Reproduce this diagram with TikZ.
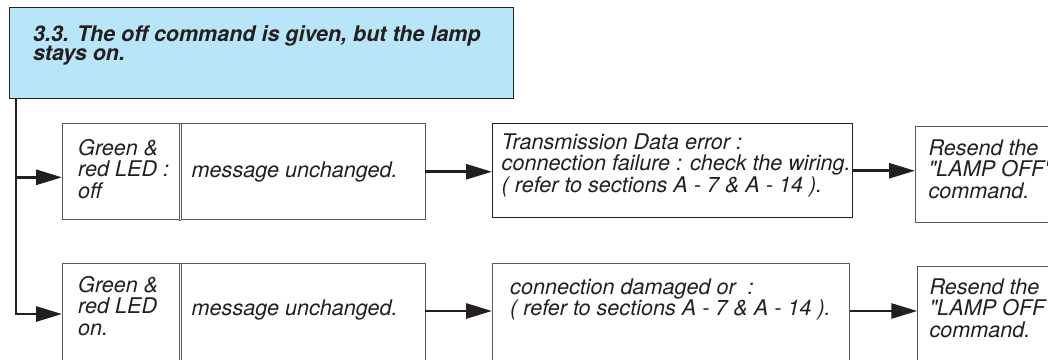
\documentclass[tikz,border=0pt]{standalone}
\usepackage{fontspec}
\newfontfamily\hvfont{TeX Gyre Heros}
\usetikzlibrary{arrows.meta,calc}
\definecolor{ink}{HTML}{231F20}
\definecolor{hdrfill}{HTML}{B9E5F9}
\definecolor{boxline}{HTML}{58595B}
\newcommand\mytopstrut{\rule{0pt}{20pt}}
\begin{document}
\begin{tikzpicture}[x=1pt,y=-1pt,
  boxn/.style={draw=boxline, line width=0.9pt, inner sep=0pt, anchor=north west},
  txt/.style={anchor=north west, inner sep=0pt, align=left, text=ink,
    font=\hvfont\fontsize{21.6}{21.5}\selectfont\itshape},
  conn/.style={draw=ink, line width=2.8pt},
  arr/.style={conn, -{Triangle[length=26pt,width=15pt]}}]
\useasboundingbox (0,0) rectangle (1048,359);
\clip (0,0) rectangle (1048,359);

% header
\node[draw=ink, line width=1.4pt, fill=hdrfill, inner sep=0pt, anchor=north west,
  minimum width=504pt, minimum height=91pt] (hdr) at (9,7) {};
\node[txt, font=\hvfont\fontsize{21.5}{19.3}\selectfont\bfseries\itshape] (thdr) at (33,21)
  {\mytopstrut 3.3. The off command is given, but the lamp\\stays on.};

% row 1 boxes
\node[boxn, minimum width=116.5pt, minimum height=96pt] (A1) at (62,123.3) {};
\node[boxn, minimum width=244pt, minimum height=96pt] (B1) at (180.5,123.3) {};
\draw[boxline, line width=0.9pt] (A1.north east) -- (B1.north west) (A1.south east) -- (B1.south west);
\node[boxn, draw=ink, minimum width=360pt, minimum height=94pt] (C1) at (492,123.3) {};
\node[boxn, minimum width=200pt, minimum height=96.3pt] (D1) at (915,126) {};

% row 2 boxes
\node[boxn, minimum width=116.5pt, minimum height=120pt] (A2) at (62,263) {};
\node[boxn, minimum width=244pt, minimum height=120pt] (B2) at (180.5,263) {};
\draw[boxline, line width=0.9pt] (A2.north east) -- (B2.north west);
\node[boxn, minimum width=357pt, minimum height=120pt] (C2) at (492,263.3) {};
\node[boxn, minimum width=200pt, minimum height=120pt] (D2) at (917.3,265.7) {};

% texts
\node[txt] (tA1) at (78,135) {\mytopstrut Green \&\\red LED :\\off};
\node[txt] (tB1) at (191.5,157) {\mytopstrut message unchanged.};
\node[txt] (tC1) at (501.5,129) {\mytopstrut Transmission Data error :\\connection failure : check the wiring.\\( refer to sections A - 7 \& A - 14 ).};
\node[txt] (tD1) at (928.3,135) {\mytopstrut Resend the\\"LAMP OFF"\\command.};
\node[txt] (tA2) at (78,272) {\mytopstrut Green \&\\red LED\\on.};
\node[txt] (tB2) at (191.5,295) {\mytopstrut message unchanged.};
\node[txt] (tC2) at (510,274) {\mytopstrut connection damaged or~~:\\( refer to sections A - 7 \& A - 14 ).};
\node[txt] (tD2) at (929.3,274) {\mytopstrut Resend the\\"LAMP OFF"\\command.};

% connectors
\coordinate (vtop) at ($(hdr.south west)+(7,0)$);
\coordinate (A1in) at ($(A1.north west)+(0,54)$);
\coordinate (A2in) at ($(A2.north west)+(0,51)$);
\draw[arr] (vtop) |- (A2in);
\draw[arr] (vtop |- A1in) -- (A1in);
\draw[arr] (B1.east) -- (B1.east -| C1.west);
\draw[arr] (C1.east) -- (C1.east -| D1.west);
\coordinate (B2out) at ($(B2.north east)+(0,48)$);
\draw[arr] (B2out) -- (B2out -| C2.west);
\draw[arr] (C2.north east |- B2out) -- (B2out -| D2.west);
\end{tikzpicture}
\end{document}
